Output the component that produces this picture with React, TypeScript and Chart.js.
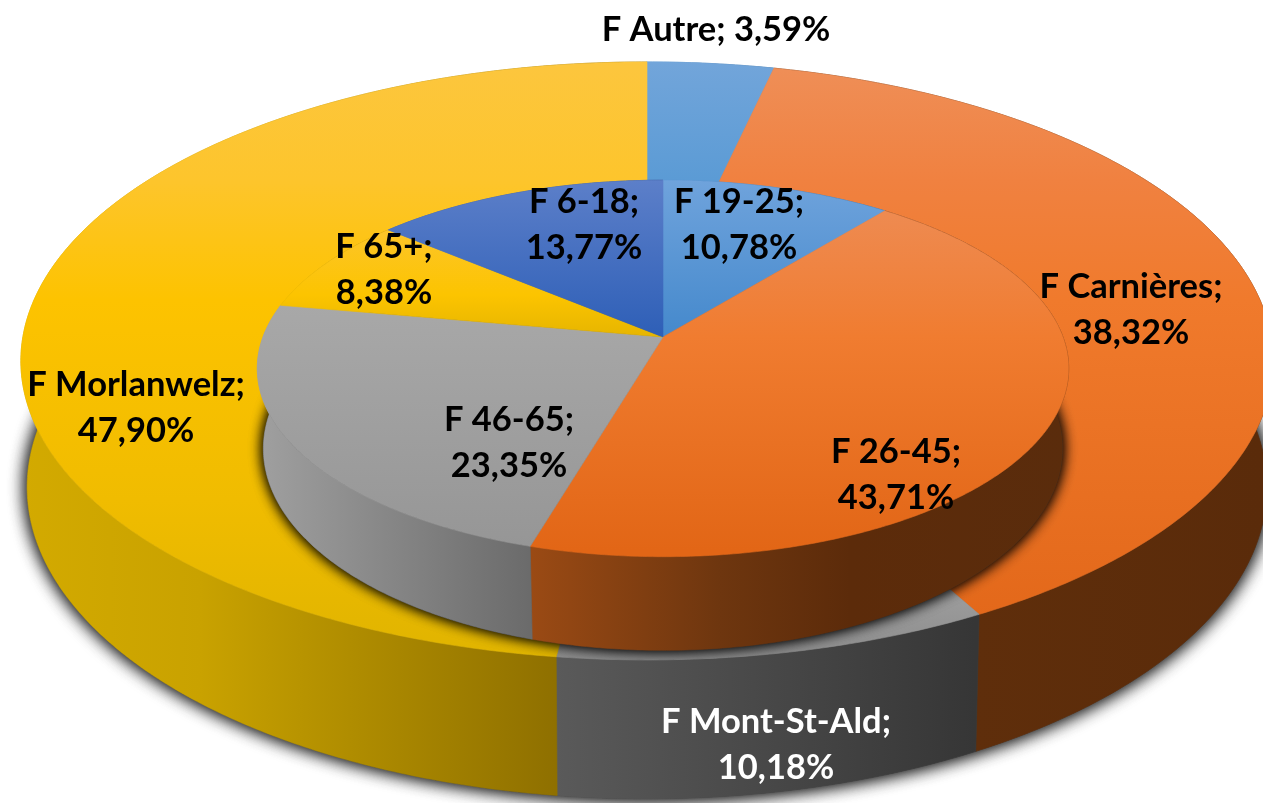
import React, { useEffect, useRef } from "react";
import { Chart, registerables } from "chart.js";

Chart.register(...registerables);

// ---- data ----
const outerCategories = ["F Autre", "F Carnières", "F Mont-St-Ald", "F Morlanwelz"];
const outerValues = [3.59, 38.32, 10.18, 47.9];
const innerCategories = ["F 19-25", "F 26-45", "F 46-65", "F 65+", "F 6-18"];
const innerValues = [10.78, 43.71, 23.35, 8.38, 13.77];

// ---- styling ----
const FONT = "bold 34.5px Lato, 'Open Sans', sans-serif";
const LINE = 46;

type Stops = [number, string][];
type Disc = { cx: number; cy: number; R: number; A: number; k: number; z: number; shrink: number };

const outerDisc: Disc = { cx: 647, cy: 331, R: 623, A: 296, k: 0.1, z: 125, shrink: 0.99 };
const innerDisc: Disc = { cx: 663, cy: 337, R: 400, A: 183, k: 0.167, z: 78, shrink: 0.985 };

const outerTop: Stops[] = [
  [[62, "#72a5da"], [180, "#5b9bd5"]],
  [[62, "#ef8f58"], [180, "#f08140"], [300, "#f07a2c"], [620, "#e3681a"]],
  [[560, "#a5a5a5"], [660, "#8c8c8c"]],
  [[62, "#fcc63e"], [180, "#fdc52c"], [300, "#fdc300"], [500, "#f0bc00"], [660, "#e0b400"]],
];
const outerSide: Stops[] = [
  [[640, "#5b9bd5"], [780, "#3a6a96"]],
  [[975, "#5f2e0b"], [1263, "#5a2b0a"]],
  [[555, "#5a5a5a"], [975, "#363636"]],
  [[20, "#d3aa00"], [200, "#c9a200"], [300, "#b89400"], [555, "#8f7000"]],
];
const innerTop: Stops[] = [
  [[180, "#6fa3dc"], [337, "#4589cc"]],
  [[207, "#ee8b52"], [337, "#f07c30"], [550, "#e26616"]],
  [[305, "#a8a8a8"], [547, "#969696"]],
  [[226, "#fdc52c"], [295, "#fcc400"], [337, "#e6b500"]],
  [[180, "#5c7fc9"], [337, "#2e5fb7"]],
];
const innerSide: Stops[] = [
  [[663, "#4589cc"], [880, "#2e5f8e"]],
  [[532, "#9a4a14"], [720, "#6e360f"], [850, "#5c2b0a"], [1070, "#5a2c0c"]],
  [[257, "#a0a0a0"], [535, "#6a6a6a"]],
  [[260, "#e6b500"], [380, "#a88800"]],
  [[385, "#3a5ca0"], [663, "#2a4a88"]],
];

type Lab = { dataset: number; index: number; x: number; y: number; color: string; oneLine?: boolean };
const labelLayout: Lab[] = [
  { dataset: 0, index: 0, x: 716, y: 41, color: "#000", oneLine: true },
  { dataset: 0, index: 1, x: 1131, y: 298, color: "#000" },
  { dataset: 0, index: 2, x: 776, y: 733, color: "#fff" },
  { dataset: 0, index: 3, x: 136, y: 396, color: "#000" },
  { dataset: 1, index: 0, x: 739, y: 213, color: "#000" },
  { dataset: 1, index: 1, x: 896, y: 463, color: "#000" },
  { dataset: 1, index: 2, x: 509, y: 431, color: "#000" },
  { dataset: 1, index: 3, x: 384, y: 258, color: "#000" },
  { dataset: 1, index: 4, x: 584, y: 213, color: "#000" },
];

const fmt = (v: number) => v.toFixed(2).replace(".", ",") + "%";

function project(d: Disc, a: number, bottom: boolean): [number, number] {
  const u = Math.cos(a);
  const v = Math.sin(a);
  const s = 1 / (1 - d.k * v);
  const m = bottom ? d.shrink : 1;
  return [d.cx + d.R * u * s * m, d.cy + d.A * v * s + (bottom ? d.z * s : 0)];
}

function grad(ctx: CanvasRenderingContext2D, stops: Stops, vertical: boolean) {
  const a = stops[0][0];
  const b = stops[stops.length - 1][0];
  const g = vertical ? ctx.createLinearGradient(0, a, 0, b) : ctx.createLinearGradient(a, 0, b, 0);
  stops.forEach(([p, c]) => g.addColorStop((p - a) / (b - a), c));
  return g;
}

function arcPts(d: Disc, a0: number, a1: number, bottom: boolean) {
  const n = Math.max(2, Math.ceil(Math.abs(a1 - a0) / 0.01));
  const pts: [number, number][] = [];
  for (let i = 0; i <= n; i++) pts.push(project(d, a0 + ((a1 - a0) * i) / n, bottom));
  return pts;
}

function wedge(ctx: CanvasRenderingContext2D, d: Disc, a0: number, a1: number) {
  ctx.beginPath();
  ctx.moveTo(d.cx, d.cy);
  arcPts(d, a0, a1, false).forEach(([x, y]) => ctx.lineTo(x, y));
  ctx.closePath();
}

function band(ctx: CanvasRenderingContext2D, d: Disc, a0: number, a1: number) {
  ctx.beginPath();
  arcPts(d, a0, a1, false).forEach(([x, y], i) => (i ? ctx.lineTo(x, y) : ctx.moveTo(x, y)));
  arcPts(d, a1, a0, true).forEach(([x, y]) => ctx.lineTo(x, y));
  ctx.closePath();
}

function ellipse(ctx: CanvasRenderingContext2D, d: Disc, bottom: boolean) {
  ctx.beginPath();
  arcPts(d, 0, Math.PI * 2, bottom).forEach(([x, y], i) => (i ? ctx.lineTo(x, y) : ctx.moveTo(x, y)));
  ctx.closePath();
}

const pie3d = {
  id: "pie3d",
  beforeDatasetsDraw(chart: any) {
    const ctx: CanvasRenderingContext2D = chart.ctx;
    const outer = chart.getDatasetMeta(0).data;
    const inner = chart.getDatasetMeta(1).data;

    // cast shadow of the outer disc
    ctx.save();
    ctx.shadowColor = "rgba(0,0,0,0.85)";
    ctx.shadowBlur = 18;
    ctx.fillStyle = "#555";
    ellipse(ctx, outerDisc, true);
    ctx.fill();
    ctx.fill();
    ctx.restore();

    // outer side walls, then outer top faces
    outer.forEach((el: any, i: number) => {
      const g = grad(ctx, outerSide[i], false);
      band(ctx, outerDisc, el.startAngle, el.endAngle);
      ctx.fillStyle = g;
      ctx.strokeStyle = g;
      ctx.lineWidth = 0.6;
      ctx.fill();
      ctx.stroke();
    });
    outer.forEach((el: any, i: number) => {
      const g = grad(ctx, outerTop[i], true);
      wedge(ctx, outerDisc, el.startAngle, el.endAngle);
      ctx.fillStyle = g;
      ctx.strokeStyle = g;
      ctx.lineWidth = 0.6;
      ctx.fill();
      ctx.stroke();
    });

    // shadow of the inner disc, kept on the outer top face
    ctx.save();
    ellipse(ctx, outerDisc, false);
    ctx.clip();
    ctx.shadowColor = "rgba(0,0,0,0.9)";
    ctx.shadowBlur = 14;
    ctx.fillStyle = "#333";
    ellipse(ctx, innerDisc, true);
    ctx.fill();
    ctx.fill();
    ctx.restore();

    // inner side walls, then inner top faces
    inner.forEach((el: any, i: number) => {
      const g = grad(ctx, innerSide[i], false);
      band(ctx, innerDisc, el.startAngle, el.endAngle);
      ctx.fillStyle = g;
      ctx.strokeStyle = g;
      ctx.lineWidth = 0.6;
      ctx.fill();
      ctx.stroke();
    });
    inner.forEach((el: any, i: number) => {
      const g = grad(ctx, innerTop[i], true);
      wedge(ctx, innerDisc, el.startAngle, el.endAngle);
      ctx.fillStyle = g;
      ctx.strokeStyle = g;
      ctx.lineWidth = 0.6;
      ctx.fill();
      ctx.stroke();
    });

    // labels
    ctx.save();
    ctx.font = FONT;
    ctx.textAlign = "center";
    ctx.textBaseline = "alphabetic";
    labelLayout.forEach((l) => {
      const ds = chart.data.datasets[l.dataset];
      const name = ds.labelsText[l.index] as string;
      const val = fmt(ds.data[l.index]);
      ctx.fillStyle = l.color;
      if (l.oneLine) {
        ctx.fillText(`${name}; ${val}`, l.x, l.y);
      } else {
        ctx.fillText(`${name};`, l.x, l.y);
        ctx.fillText(val, l.x, l.y + LINE);
      }
    });
    ctx.restore();
    return false;
  },
};

export default function App() {
  const ref = useRef<HTMLCanvasElement>(null);
  useEffect(() => {
    const chart = new Chart(ref.current!, {
      type: "doughnut",
      data: {
        labels: outerCategories,
        datasets: [
          {
            label: "Communes",
            data: outerValues,
            labelsText: outerCategories,
            backgroundColor: ["#5b9bd5", "#ed7d31", "#a5a5a5", "#ffc000"],
          } as any,
          {
            label: "Âges",
            data: innerValues,
            labelsText: innerCategories,
            backgroundColor: ["#5b9bd5", "#ed7d31", "#a5a5a5", "#ffc000", "#4472c4"],
          } as any,
        ],
      },
      options: {
        responsive: false,
        animation: false,
        cutout: 0,
        plugins: { legend: { display: false }, tooltip: { enabled: false } },
      } as any,
      plugins: [pie3d as any],
    });
    return () => chart.destroy();
  }, []);
  return (
    <canvas
      ref={ref}
      width={1263}
      height={803}
      style={{ position: "absolute", left: 0, top: 0, display: "block", background: "#fff" }}
    />
  );
}
